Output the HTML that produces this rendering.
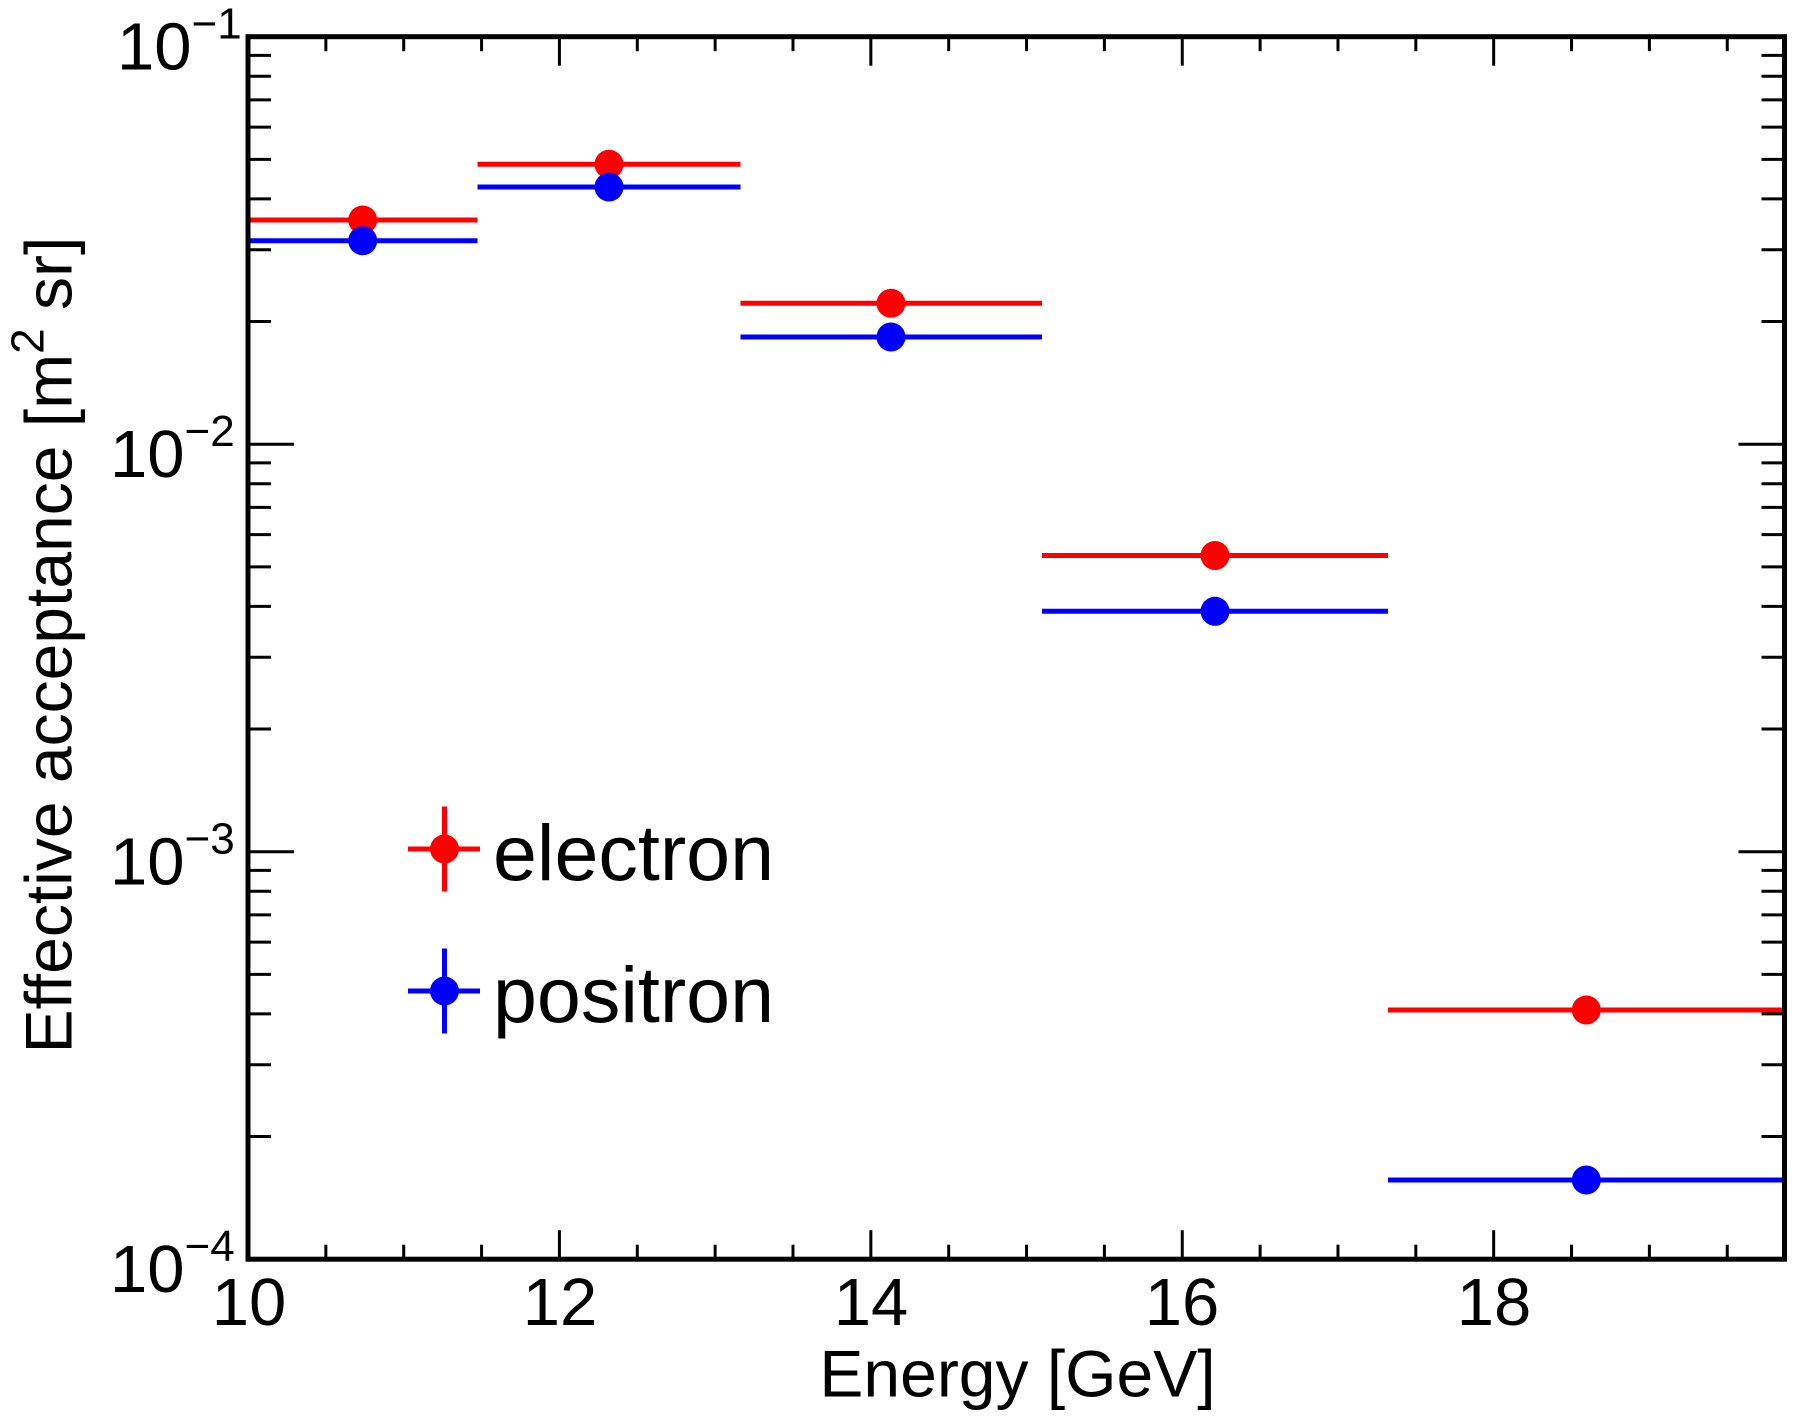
<!DOCTYPE html>
<html>
<head>
<meta charset="utf-8">
<style>
  html, body { margin: 0; padding: 0; background: #ffffff; }
  svg { display: block; }
  text { font-family: "Liberation Sans", Arial, Helvetica, sans-serif; fill: #000; }
</style>
</head>
<body>
<svg width="1797" height="1419" viewBox="0 0 1797 1419" xmlns="http://www.w3.org/2000/svg">
  <rect x="0" y="0" width="1797" height="1419" fill="#ffffff"/>

  <!-- Data: electron (red) -->
  <g stroke="#ff0000" stroke-width="5" fill="none">
    <line x1="248" y1="220" x2="477.5" y2="220"/>
    <line x1="477.5" y1="164.3" x2="740.5" y2="164.3"/>
    <line x1="740.5" y1="303.3" x2="1042" y2="303.3"/>
    <line x1="1042" y1="555.5" x2="1388" y2="555.5"/>
    <line x1="1388" y1="1010" x2="1784.5" y2="1010"/>
  </g>
  <g fill="#ff0000">
    <circle cx="362.7" cy="220" r="14.5"/>
    <circle cx="609" cy="164.3" r="14.5"/>
    <circle cx="891" cy="303.3" r="14.5"/>
    <circle cx="1215" cy="555.5" r="14.5"/>
    <circle cx="1586.3" cy="1010" r="14.5"/>
  </g>

  <!-- Data: positron (blue) -->
  <g stroke="#0000ff" stroke-width="5" fill="none">
    <line x1="248" y1="240.7" x2="477.5" y2="240.7"/>
    <line x1="477.5" y1="187" x2="740.5" y2="187"/>
    <line x1="740.5" y1="337" x2="1042" y2="337"/>
    <line x1="1042" y1="611.3" x2="1388" y2="611.3"/>
    <line x1="1388" y1="1180" x2="1784.5" y2="1180"/>
  </g>
  <g fill="#0000ff">
    <circle cx="362.7" cy="240.7" r="14.5"/>
    <circle cx="609" cy="187" r="14.5"/>
    <circle cx="891" cy="337" r="14.5"/>
    <circle cx="1215" cy="611.3" r="14.5"/>
    <circle cx="1586.3" cy="1180" r="14.5"/>
  </g>

  <!-- Ticks -->
  <g stroke="#000" stroke-width="3" fill="none">
    <line x1="559.42" y1="1259.2" x2="559.42" y2="1230.2"/>
    <line x1="870.84" y1="1259.2" x2="870.84" y2="1230.2"/>
    <line x1="1182.26" y1="1259.2" x2="1182.26" y2="1230.2"/>
    <line x1="1493.68" y1="1259.2" x2="1493.68" y2="1230.2"/>
    <line x1="325.86" y1="1259.2" x2="325.86" y2="1244.7"/>
    <line x1="403.71" y1="1259.2" x2="403.71" y2="1244.7"/>
    <line x1="481.57" y1="1259.2" x2="481.57" y2="1244.7"/>
    <line x1="637.28" y1="1259.2" x2="637.28" y2="1244.7"/>
    <line x1="715.13" y1="1259.2" x2="715.13" y2="1244.7"/>
    <line x1="792.99" y1="1259.2" x2="792.99" y2="1244.7"/>
    <line x1="948.70" y1="1259.2" x2="948.70" y2="1244.7"/>
    <line x1="1026.55" y1="1259.2" x2="1026.55" y2="1244.7"/>
    <line x1="1104.41" y1="1259.2" x2="1104.41" y2="1244.7"/>
    <line x1="1260.12" y1="1259.2" x2="1260.12" y2="1244.7"/>
    <line x1="1337.97" y1="1259.2" x2="1337.97" y2="1244.7"/>
    <line x1="1415.83" y1="1259.2" x2="1415.83" y2="1244.7"/>
    <line x1="1571.54" y1="1259.2" x2="1571.54" y2="1244.7"/>
    <line x1="1649.39" y1="1259.2" x2="1649.39" y2="1244.7"/>
    <line x1="1727.25" y1="1259.2" x2="1727.25" y2="1244.7"/>
    <line x1="559.42" y1="36.7" x2="559.42" y2="65.7"/>
    <line x1="870.84" y1="36.7" x2="870.84" y2="65.7"/>
    <line x1="1182.26" y1="36.7" x2="1182.26" y2="65.7"/>
    <line x1="1493.68" y1="36.7" x2="1493.68" y2="65.7"/>
    <line x1="325.86" y1="36.7" x2="325.86" y2="51.2"/>
    <line x1="403.71" y1="36.7" x2="403.71" y2="51.2"/>
    <line x1="481.57" y1="36.7" x2="481.57" y2="51.2"/>
    <line x1="637.28" y1="36.7" x2="637.28" y2="51.2"/>
    <line x1="715.13" y1="36.7" x2="715.13" y2="51.2"/>
    <line x1="792.99" y1="36.7" x2="792.99" y2="51.2"/>
    <line x1="948.70" y1="36.7" x2="948.70" y2="51.2"/>
    <line x1="1026.55" y1="36.7" x2="1026.55" y2="51.2"/>
    <line x1="1104.41" y1="36.7" x2="1104.41" y2="51.2"/>
    <line x1="1260.12" y1="36.7" x2="1260.12" y2="51.2"/>
    <line x1="1337.97" y1="36.7" x2="1337.97" y2="51.2"/>
    <line x1="1415.83" y1="36.7" x2="1415.83" y2="51.2"/>
    <line x1="1571.54" y1="36.7" x2="1571.54" y2="51.2"/>
    <line x1="1649.39" y1="36.7" x2="1649.39" y2="51.2"/>
    <line x1="1727.25" y1="36.7" x2="1727.25" y2="51.2"/>

    <line x1="248" y1="444.2" x2="294" y2="444.2"/>
    <line x1="248" y1="851.7" x2="294" y2="851.7"/>
    <line x1="248" y1="321.53" x2="271" y2="321.53"/>
    <line x1="248" y1="249.77" x2="271" y2="249.77"/>
    <line x1="248" y1="198.86" x2="271" y2="198.86"/>
    <line x1="248" y1="159.37" x2="271" y2="159.37"/>
    <line x1="248" y1="127.10" x2="271" y2="127.10"/>
    <line x1="248" y1="99.82" x2="271" y2="99.82"/>
    <line x1="248" y1="76.19" x2="271" y2="76.19"/>
    <line x1="248" y1="55.35" x2="271" y2="55.35"/>
    <line x1="248" y1="729.03" x2="271" y2="729.03"/>
    <line x1="248" y1="657.27" x2="271" y2="657.27"/>
    <line x1="248" y1="606.36" x2="271" y2="606.36"/>
    <line x1="248" y1="566.87" x2="271" y2="566.87"/>
    <line x1="248" y1="534.60" x2="271" y2="534.60"/>
    <line x1="248" y1="507.32" x2="271" y2="507.32"/>
    <line x1="248" y1="483.69" x2="271" y2="483.69"/>
    <line x1="248" y1="462.85" x2="271" y2="462.85"/>
    <line x1="248" y1="1136.53" x2="271" y2="1136.53"/>
    <line x1="248" y1="1064.77" x2="271" y2="1064.77"/>
    <line x1="248" y1="1013.86" x2="271" y2="1013.86"/>
    <line x1="248" y1="974.37" x2="271" y2="974.37"/>
    <line x1="248" y1="942.10" x2="271" y2="942.10"/>
    <line x1="248" y1="914.82" x2="271" y2="914.82"/>
    <line x1="248" y1="891.19" x2="271" y2="891.19"/>
    <line x1="248" y1="870.35" x2="271" y2="870.35"/>

    <line x1="1784.5" y1="444.2" x2="1738.5" y2="444.2"/>
    <line x1="1784.5" y1="851.7" x2="1738.5" y2="851.7"/>
    <line x1="1784.5" y1="321.53" x2="1761.5" y2="321.53"/>
    <line x1="1784.5" y1="249.77" x2="1761.5" y2="249.77"/>
    <line x1="1784.5" y1="198.86" x2="1761.5" y2="198.86"/>
    <line x1="1784.5" y1="159.37" x2="1761.5" y2="159.37"/>
    <line x1="1784.5" y1="127.10" x2="1761.5" y2="127.10"/>
    <line x1="1784.5" y1="99.82" x2="1761.5" y2="99.82"/>
    <line x1="1784.5" y1="76.19" x2="1761.5" y2="76.19"/>
    <line x1="1784.5" y1="55.35" x2="1761.5" y2="55.35"/>
    <line x1="1784.5" y1="729.03" x2="1761.5" y2="729.03"/>
    <line x1="1784.5" y1="657.27" x2="1761.5" y2="657.27"/>
    <line x1="1784.5" y1="606.36" x2="1761.5" y2="606.36"/>
    <line x1="1784.5" y1="566.87" x2="1761.5" y2="566.87"/>
    <line x1="1784.5" y1="534.60" x2="1761.5" y2="534.60"/>
    <line x1="1784.5" y1="507.32" x2="1761.5" y2="507.32"/>
    <line x1="1784.5" y1="483.69" x2="1761.5" y2="483.69"/>
    <line x1="1784.5" y1="462.85" x2="1761.5" y2="462.85"/>
    <line x1="1784.5" y1="1136.53" x2="1761.5" y2="1136.53"/>
    <line x1="1784.5" y1="1064.77" x2="1761.5" y2="1064.77"/>
    <line x1="1784.5" y1="1013.86" x2="1761.5" y2="1013.86"/>
    <line x1="1784.5" y1="974.37" x2="1761.5" y2="974.37"/>
    <line x1="1784.5" y1="942.10" x2="1761.5" y2="942.10"/>
    <line x1="1784.5" y1="914.82" x2="1761.5" y2="914.82"/>
    <line x1="1784.5" y1="891.19" x2="1761.5" y2="891.19"/>
    <line x1="1784.5" y1="870.35" x2="1761.5" y2="870.35"/>
  </g>

  <!-- Frame -->
  <rect x="248" y="36.7" width="1536.5" height="1222.5" fill="none" stroke="#000" stroke-width="5"/>

  <!-- Y tick labels -->
  <text x="117" y="69.4" font-size="67">10<tspan font-size="44" dy="-30.7">−1</tspan></text>
  <text x="110" y="476.9" font-size="67">10<tspan font-size="44" dy="-30.7">−2</tspan></text>
  <text x="110" y="884.4" font-size="67">10<tspan font-size="44" dy="-30.7">−3</tspan></text>
  <text x="110" y="1291.9" font-size="67">10<tspan font-size="44" dy="-30.7">−4</tspan></text>

  <!-- X tick labels -->
  <g font-size="67" text-anchor="middle">
    <text x="249" y="1325">10</text>
    <text x="560" y="1325">12</text>
    <text x="871" y="1325">14</text>
    <text x="1182" y="1325">16</text>
    <text x="1494" y="1325">18</text>
  </g>

  <!-- Axis titles -->
  <text x="1017.5" y="1396.7" font-size="66" text-anchor="middle">Energy [GeV]</text>
  <text transform="translate(71.7,645) rotate(-90)" font-size="66" text-anchor="middle">Effective acceptance [m<tspan font-size="46" dy="-28">2</tspan><tspan dy="28"> sr]</tspan></text>

  <!-- Legend -->
  <g stroke-width="5" fill="none">
    <line x1="408" y1="849" x2="480" y2="849" stroke="#ff0000"/>
    <line x1="444.5" y1="806.5" x2="444.5" y2="891.5" stroke="#ff0000"/>
    <line x1="408" y1="991" x2="480" y2="991" stroke="#0000ff"/>
    <line x1="444.5" y1="948.5" x2="444.5" y2="1033.5" stroke="#0000ff"/>
  </g>
  <circle cx="444.5" cy="849" r="14.5" fill="#ff0000"/>
  <circle cx="444.5" cy="991" r="14.5" fill="#0000ff"/>
  <text x="493" y="880" font-size="79">electron</text>
  <text x="493" y="1022" font-size="79">positron</text>
</svg>
</body>
</html>
